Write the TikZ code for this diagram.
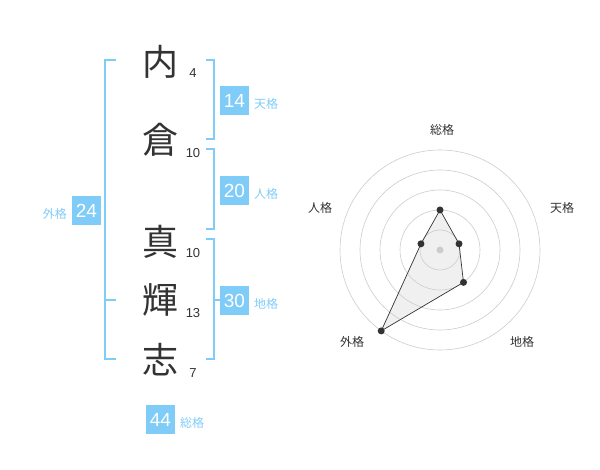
\documentclass[tikz,border=0pt]{standalone}
\usepackage{fontspec}
\setmainfont{Liberation Sans}
\newfontfamily\cjk{Noto Sans CJK JP}
\definecolor{sky}{HTML}{80CCF8}
\definecolor{ink}{HTML}{333333}
\definecolor{ring}{HTML}{CCCCCC}
\begin{document}
\begin{tikzpicture}[x=1pt,y=-1pt,
  kanji/.style={font=\cjk\fontsize{36}{36}\selectfont,text=ink,inner sep=0pt},
  strokes/.style={font=\fontsize{13}{13}\selectfont,text=ink,inner sep=0pt},
  valbox/.style={fill=sky,text=white,minimum width=29pt,minimum height=29pt,inner sep=0pt,font=\fontsize{19}{19}\selectfont},
  kaku/.style={font=\cjk\fontsize{12}{12}\selectfont,text=sky,inner sep=0pt},
  brk/.style={draw=sky,line width=2pt},
  axlab/.style={font=\cjk\fontsize{12}{12}\selectfont,text=ink,inner sep=0pt},
  dot/.style={circle,fill=ink,inner sep=0pt,minimum size=7pt}]
\useasboundingbox (0,0) rectangle (600,470);
% characters
\node[kanji] (c1) at (160,62) {内};
\node[kanji] (c2) at (160,140) {倉};
\node[kanji] (c3) at (160,242) {真};
\node[kanji] (c4) at (160,300) {輝};
\node[kanji] (c5) at (160,360) {志};
\node[strokes] (s1) at (193,73) {4};
\node[strokes] (s2) at (193,153) {10};
\node[strokes] (s3) at (193,253) {10};
\node[strokes] (s4) at (193,313) {13};
\node[strokes] (s5) at (193,373) {7};
% brackets
\draw[brk] (116,60) -- (105,60) -- (105,359) -- (116,359);
\draw[brk] (105,300) -- (116,300);
\draw[brk] (206,60) -- (214,60) -- (214,139) -- (206,139);
\draw[brk] (206,149) -- (214,149) -- (214,229) -- (206,229);
\draw[brk] (206,239) -- (214,239) -- (214,359) -- (206,359);
\draw[brk] (214,300) -- (222,300);
% value boxes
\node[valbox] (b1) at (234.5,100.5) {14};
\node[kaku,anchor=west] (k1) at (254,104) {天格};
\node[valbox] (b2) at (234.5,190.5) {20};
\node[kaku,anchor=west] (k2) at (254,194) {人格};
\node[valbox] (b3) at (234.5,300.5) {30};
\node[kaku,anchor=west] (k3) at (254,304) {地格};
\node[valbox] (b4) at (86.5,210.5) {24};
\node[kaku,anchor=east] (k4) at (67,214) {外格};
\node[valbox] (b5) at (160.5,419.5) {44};
\node[kaku,anchor=west] (k5) at (180,423) {総格};
% radar
\coordinate (ctr) at (440,250);
\foreach \r in {20,40,60,80,100} \draw[ring,line width=0.6pt] (ctr) circle[radius=\r];
\fill[ring] (ctr) circle[radius=3.5];
\path (ctr) ++(-90:40) coordinate (pA)
      (ctr) ++(-18:20) coordinate (pB)
      (ctr) ++(54:40) coordinate (pC)
      (ctr) ++(126:100) coordinate (pD)
      (ctr) ++(198:20) coordinate (pE);
\filldraw[fill=gray!40,fill opacity=0.3,draw=ink,line width=0.7pt] (pA) -- (pB) -- (pC) -- (pD) -- (pE) -- cycle;
\foreach \p in {pA,pB,pC,pD,pE} \node[dot] at (\p) {};
\node[axlab] (a1) at (442,130) {総格};
\node[axlab] (a2) at (562,208) {天格};
\node[axlab] (a3) at (522,342) {地格};
\node[axlab] (a4) at (352,342) {外格};
\node[axlab] (a5) at (320,208) {人格};
\end{tikzpicture}
\end{document}
